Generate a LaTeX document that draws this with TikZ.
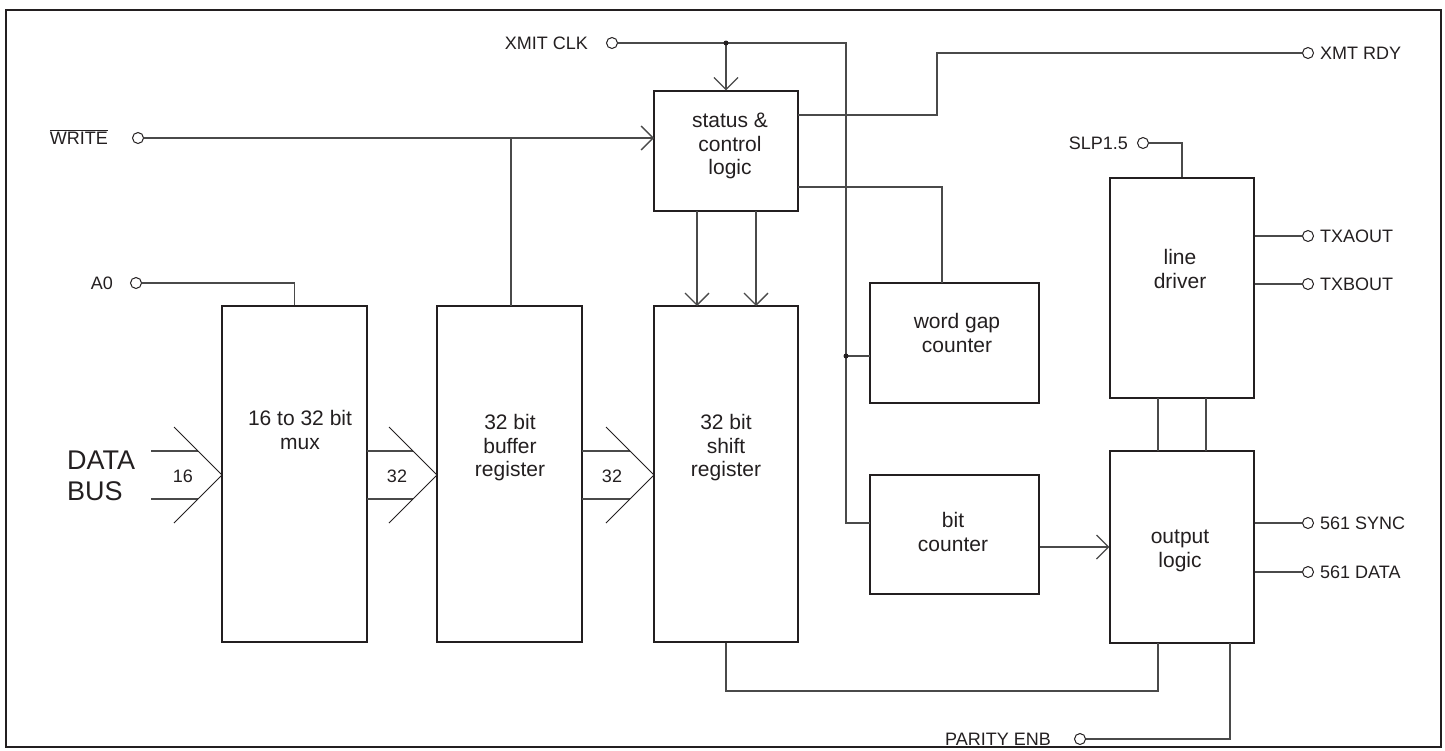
\documentclass[tikz,border=0pt]{standalone}
\usepackage{fontspec}
\setmainfont{Liberation Sans}
\usetikzlibrary{arrows.meta,calc}
\definecolor{ink}{HTML}{231F20}
\definecolor{wirec}{HTML}{4A4A4A}
\begin{document}
\begin{tikzpicture}[x=1pt,y=-1pt,
  blk/.style={rectangle,draw=ink,line width=1.2pt,inner sep=0pt},
  wire/.style={draw=wirec,line width=1.3pt},
  arr/.style={wire,-{Straight Barb[length=12pt,width=24pt]}},
  pin/.style={circle,draw=ink,fill=white,line width=1pt,minimum size=11pt,inner sep=0pt},
  lbl/.style={font=\fontsize{18}{20}\selectfont,text=ink,inner sep=0pt},
  btxt/.style={font=\fontsize{21}{23.5}\selectfont,text=ink,align=center,inner sep=0pt},
  jdot/.style={circle,fill=ink,minimum size=5pt,inner sep=0pt}]
\useasboundingbox (0,0) rectangle (1445,750);
\draw[ink,line width=2.5pt] (6,10) rectangle (1441,747);

% blocks
\node[blk,minimum width=144pt,minimum height=120pt] (stat) at (726,151) {};
\node[blk,minimum width=145pt,minimum height=336pt] (mux) at (294.5,474) {};
\node[blk,minimum width=145pt,minimum height=336pt] (buf) at (509.5,474) {};
\node[blk,minimum width=144pt,minimum height=336pt] (shift) at (726,474) {};
\node[blk,minimum width=169pt,minimum height=120pt] (wgc) at (954.5,343) {};
\node[blk,minimum width=169pt,minimum height=119pt] (bitc) at (954.5,534.5) {};
\node[blk,minimum width=144pt,minimum height=220pt] (ldrv) at (1182,288) {};
\node[blk,minimum width=144pt,minimum height=192pt] (outl) at (1182,547) {};

% block texts
\node[btxt] (t_stat) at (730,146) {status \&\\control\\logic};
\node[btxt] (t_mux) at (300,430) {16 to 32 bit\\mux};
\node[btxt] (t_buf) at (510,448) {32 bit\\buffer\\register};
\node[btxt] (t_shift) at (726,448) {32 bit\\shift\\register};
\node[btxt] (t_wgc) at (957,333) {word gap\\counter};
\node[btxt] (t_bitc) at (953,532) {bit\\counter};
\node[btxt] (t_ldrv) at (1180,269) {line\\driver};
\node[btxt] (t_outl) at (1180,551) {output\\logic};

% pins
\node[pin] (p_xclk) at (612,43) {};
\node[pin] (p_write) at (138,138) {};
\node[pin] (p_a0) at (136,283) {};
\node[pin] (p_rdy) at (1308,53) {};
\node[pin] (p_slp) at (1143,143) {};
\node[pin] (p_txa) at (1308,236) {};
\node[pin] (p_txb) at (1308,284) {};
\node[pin] (p_sync) at (1308,523) {};
\node[pin] (p_data) at (1308,572) {};
\node[pin] (p_par) at (1080,739) {};

% pin labels
\node[lbl,anchor=base east] (l_xclk) at (588,49.4) {XMIT CLK};
\node[lbl,anchor=base east] (l_write) at (108,144.4) {$\overline{\mbox{WRITE}}$};
\node[lbl,anchor=base east] (l_a0) at (113,289.4) {A0};
\node[lbl,anchor=base east] (l_slp) at (1128,149.4) {SLP1.5};
\node[lbl,anchor=base east] (l_par) at (1051,745.4) {PARITY ENB};
\node[lbl,anchor=base west] (l_rdy) at (1320,59.4) {XMT RDY};
\node[lbl,anchor=base west] (l_txa) at (1320,242.4) {TXAOUT};
\node[lbl,anchor=base west] (l_txb) at (1320,290.4) {TXBOUT};
\node[lbl,anchor=base west] (l_sync) at (1320,529.4) {561 SYNC};
\node[lbl,anchor=base west] (l_data) at (1320,578.4) {561 DATA};

% coordinates
\coordinate (j_clk) at (726,43);
\coordinate (c_clk) at (846,43);
\coordinate (j_wg) at (846,356);
\coordinate (e_wg) at (870,356);
\coordinate (e_bit) at (870,523);
\coordinate (e_sw) at (654,138);
\coordinate (j_wr) at (511,138);
\coordinate (e_buf) at (511,306);
\coordinate (o_st1) at (798,115);
\coordinate (k_rdy) at (937,53);
\coordinate (o_st2) at (798,187);
\coordinate (e_wgt) at (942,283);
\coordinate (s1a) at (697,211);
\coordinate (s1b) at (697,306);
\coordinate (s2a) at (756,211);
\coordinate (s2b) at (756,306);
\coordinate (v1a) at (1158,398);
\coordinate (v1b) at (1158,451);
\coordinate (v2a) at (1206,398);
\coordinate (v2b) at (1206,451);
\coordinate (b1) at (726,691);
\coordinate (e_ob) at (1158,643);
\coordinate (e_op) at (1230,643);

% XMIT CLK
\draw[wire] (p_xclk) -- (c_clk) |- (e_bit);
\draw[wire] (j_wg) -- (e_wg);
\draw[arr] (j_clk) -- (stat.north);
\node[jdot] (d1) at (j_clk) {};
\node[jdot] (d2) at (j_wg) {};

% WRITE
\draw[arr] (p_write) -- (e_sw);
\draw[wire] (j_wr) -- (e_buf);

% A0
\draw[wire] (p_a0) -| (mux.north);

% status outputs
\draw[wire] (o_st1) -| (k_rdy) -- (p_rdy);
\draw[wire] (o_st2) -| (e_wgt);
\draw[arr] (s1a) -- (s1b);
\draw[arr] (s2a) -- (s2b);

% line driver
\draw[wire] (p_slp) -| (ldrv.north);
\draw[wire] (ldrv.east |- p_txa) -- (p_txa);
\draw[wire] (ldrv.east |- p_txb) -- (p_txb);
\draw[wire] (v1a) -- (v1b);
\draw[wire] (v2a) -- (v2b);

% output logic
\draw[arr] (bitc.east |- outl.west) -- (outl.west);
\draw[wire] (outl.east |- p_sync) -- (p_sync);
\draw[wire] (outl.east |- p_data) -- (p_data);
\draw[wire] (shift.south) -- (b1) -| (e_ob);
\draw[wire] (e_op) |- (p_par);

% data buses
\node[font=\fontsize{27}{31}\selectfont,text=ink,align=left,anchor=west,inner sep=0pt] (l_bus) at (67,476) {DATA\\BUS};
\draw[wire] (151,451) -- (198,451);
\draw[wire] (151,499) -- (198,499);
\draw[draw=ink,line width=1pt] (174,427) -- (222,475) -- (174,523);
\node[lbl] (l_16) at (183,476) {16};
\draw[wire] (367,451) -- (413,451);
\draw[wire] (367,499) -- (413,499);
\draw[draw=ink,line width=1pt] (389,427) -- (437,475) -- (389,523);
\node[lbl] (l_32a) at (397,476) {32};
\draw[wire] (582,451) -- (630,451);
\draw[wire] (582,499) -- (630,499);
\draw[draw=ink,line width=1pt] (606,427) -- (654,475) -- (606,523);
\node[lbl] (l_32b) at (612,476) {32};
\end{tikzpicture}
\end{document}
